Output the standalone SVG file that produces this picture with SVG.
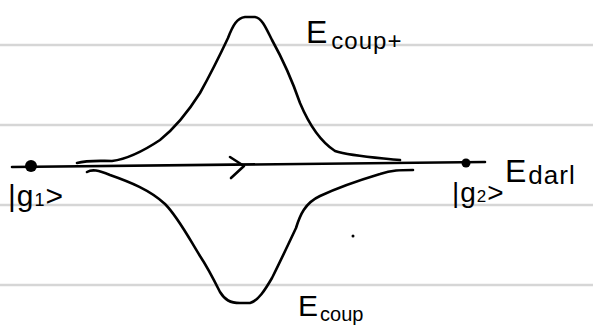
<svg xmlns="http://www.w3.org/2000/svg" width="593" height="333" viewBox="0 0 593 333">
<style>
.rule{stroke:#d6d6d6;stroke-width:2.5;fill:none}
.ink{stroke:#000;stroke-width:2.6;fill:none;stroke-linecap:round;stroke-linejoin:round}
.lbl{font-family:"Liberation Sans",Arial,sans-serif;fill:#000}
</style>
<rect width="593" height="333" fill="#fff"/>
<g id="rules">
<line class="rule" x1="0" y1="45" x2="593" y2="45"/>
<line class="rule" x1="0" y1="125" x2="593" y2="125"/>
<line class="rule" x1="0" y1="205" x2="593" y2="205"/>
<line class="rule" x1="0" y1="285" x2="593" y2="285"/>
</g>
<g id="connectors">
<path class="ink" d="M12,167 L485,162"/>
<path class="ink" d="M230,157 L244,166 L231,178"/>
</g>
<g id="g1">
<circle cx="31" cy="166" r="6" fill="#000"/>
<text class="lbl" x="8" y="206" font-size="30" letter-spacing="1">|g<tspan font-size="18">1</tspan>&gt;</text>
</g>
<g id="g2">
<circle cx="466" cy="163" r="4.5" fill="#000"/>
<text class="lbl" x="452" y="202" font-size="28" letter-spacing="1">|g<tspan font-size="17">2</tspan>&gt;</text>
</g>
<g id="Ecoupplus">
<path class="ink" d="M77,163 C88,160 100,161 112,161 C128,159 145,150 160,140 C175,128 188,112 200,93 C210,75 220,55 228,38 C233,25 237,18 245,17 L255,17 C262,18 266,28 272,40 C282,58 292,80 300,103 C308,122 318,140 335,151 C350,156 370,157 400,160"/>
<text class="lbl" x="306" y="43" font-size="32">E<tspan font-size="24" dx="4" dy="6" letter-spacing="1">coup+</tspan></text>
</g>
<g id="Ecoup">
<path class="ink" d="M87,172 C92,169 98,170 110,175 C130,182 150,190 165,204 C178,217 190,240 200,256 C208,268 214,280 220,292 C225,300 230,303 240,303 L250,303 C258,301 265,290 272,278 C280,262 288,245 296,228 C300,215 305,203 320,196 C335,189 360,180 380,174 C392,170 400,170 413,170"/>
<text class="lbl" x="298" y="316" font-size="30">E<tspan font-size="20" dx="2" dy="5">coup</tspan></text>
</g>
<g id="Edarl">
<text class="lbl" x="505" y="182" font-size="32">E<tspan font-size="26" dx="2" dy="2" letter-spacing="1">darl</tspan></text>
</g>
<circle cx="353" cy="236" r="1.5" fill="#000"/>
</svg>
